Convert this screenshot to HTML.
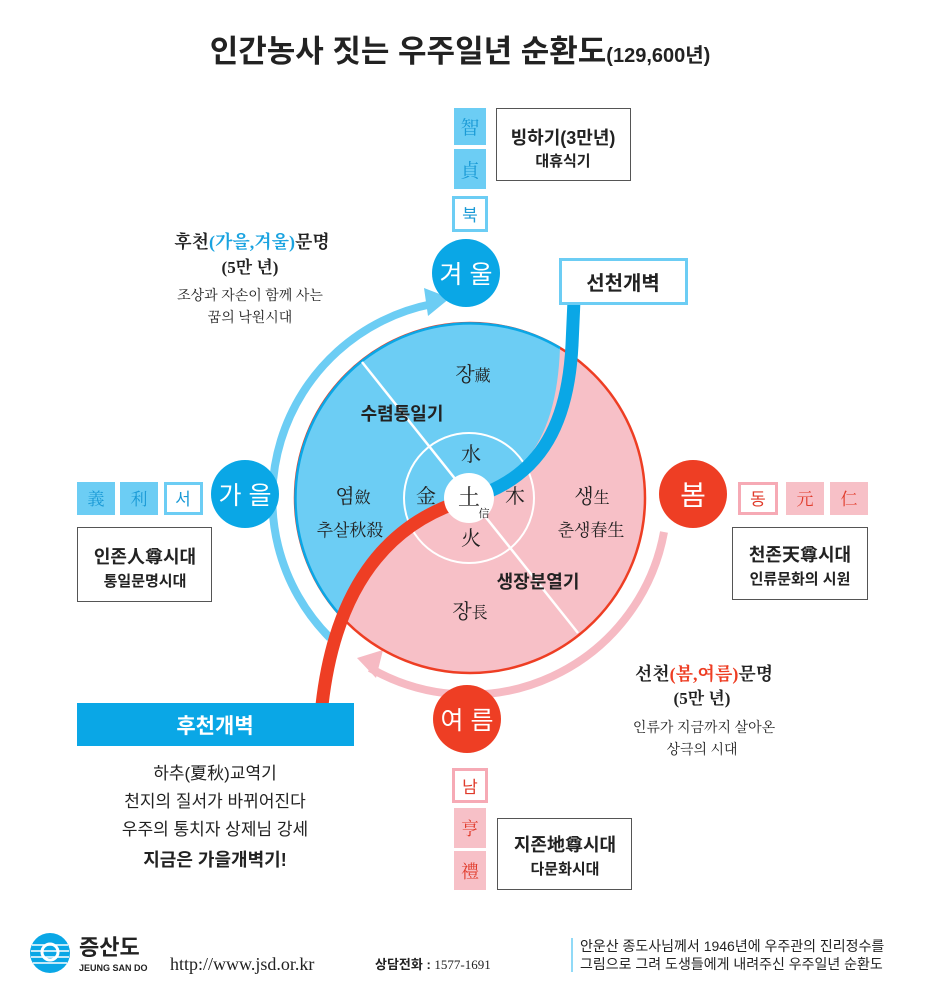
<!DOCTYPE html>
<html><head><meta charset="utf-8"><style>
body{margin:0;background:#fff;}
svg{display:block;font-family:"Liberation Sans","Noto Sans CJK KR",sans-serif;}
.s{font-family:"Liberation Serif","Noto Serif CJK SC","Noto Sans CJK KR",serif;}
</style></head><body>
<svg width="947" height="988" viewBox="0 0 947 988" xmlns="http://www.w3.org/2000/svg">
<text x="460" y="62" text-anchor="middle" font-size="31" font-weight="bold" fill="#222">인간농사 짓는 우주일년 순환도<tspan font-size="20">(129,600년)</tspan></text>

<!-- top -->
<rect x="454" y="108" width="32" height="37" fill="#6ccdf4"/><text x="470" y="134" text-anchor="middle" class="s" font-size="19" fill="#1a9ad6">智</text>
<rect x="454" y="149" width="32" height="40" fill="#6ccdf4"/><text x="470" y="177" text-anchor="middle" class="s" font-size="19" fill="#1a9ad6">貞</text>
<rect x="453.5" y="197.5" width="33" height="33" fill="#fff" stroke="#6ccdf4" stroke-width="3"/><text x="470" y="221" text-anchor="middle" font-size="17" fill="#1a9ad6">북</text>
<rect x="496.5" y="108.5" width="134" height="72" fill="#fff" stroke="#555" stroke-width="1"/>
<text x="563" y="144" text-anchor="middle" font-size="18" font-weight="bold" fill="#222">빙하기(3만년)</text>
<text x="563" y="166" text-anchor="middle" font-size="15" font-weight="bold" fill="#222">대휴식기</text>

<!-- 후천 text -->
<text x="252" y="248" text-anchor="middle" class="s" font-size="18" font-weight="bold" fill="#222">후천<tspan fill="#1aa3e0">(가을,겨울)</tspan>문명</text>
<text x="250" y="273" text-anchor="middle" class="s" font-size="17" font-weight="bold" fill="#222">(5만 년)</text>
<text x="250" y="300" text-anchor="middle" class="s" font-size="14" fill="#222">조상과 자손이 함께 사는</text>
<text x="250" y="322" text-anchor="middle" class="s" font-size="14" fill="#222">꿈의 낙원시대</text>

<!-- arcs -->
<path d="M330 638 A198 198 0 0 1 432 304" fill="none" stroke="#6ccdf4" stroke-width="8"/>
<polygon points="450,298 424,288 428,316" fill="#6ccdf4"/>
<path d="M664 532 A198 198 0 0 1 370 668" fill="none" stroke="#f6bac3" stroke-width="8"/>
<polygon points="357,658 383,650 376,678" fill="#f6bac3"/>

<!-- main circle -->
<circle cx="470" cy="498" r="175" fill="#f7c0c7" stroke="#ee3e24" stroke-width="2.5"/>
<path d="M560 348 A175 175 0 0 0 340 615 C360 570 410 515 460 500 L482 494 C530 470 557 430 560 348 Z" fill="#6ccdf4"/>
<path d="M560 348 A175 175 0 0 0 340 615" fill="none" stroke="#0aa7e6" stroke-width="2.5"/>
<line x1="362" y1="362" x2="578" y2="633" stroke="#fff" stroke-width="2.5"/>
<circle cx="469" cy="498" r="65" fill="none" stroke="#fff" stroke-width="2"/>
<!-- thick lines -->
<path d="M574 300 L572 345 C568 425 540 470 488 492" fill="none" stroke="#0aa7e6" stroke-width="13"/>
<path d="M456 503 C385 528 335 590 322 705" fill="none" stroke="#ee3e24" stroke-width="13"/>
<circle cx="469" cy="498" r="25" fill="#fff"/>

<g class="s" fill="#222">
<text x="469" y="505" text-anchor="middle" font-size="22">土</text>
<text x="484" y="517" text-anchor="middle" font-size="11">信</text>
<text x="471" y="461" text-anchor="middle" font-size="20">水</text>
<text x="426" y="503" text-anchor="middle" font-size="20">金</text>
<text x="515" y="503" text-anchor="middle" font-size="20">木</text>
<text x="471" y="545" text-anchor="middle" font-size="20">火</text>
<text x="473" y="381" text-anchor="middle" font-size="20">장<tspan font-size="16">藏</tspan></text>
<text x="353" y="503" text-anchor="middle" font-size="20">염<tspan font-size="16">斂</tspan></text>
<text x="350" y="536" text-anchor="middle" font-size="17">추살秋殺</text>
<text x="592" y="503" text-anchor="middle" font-size="20">생<tspan font-size="16">生</tspan></text>
<text x="591" y="536" text-anchor="middle" font-size="17">춘생春生</text>
<text x="470" y="618" text-anchor="middle" font-size="20">장<tspan font-size="16">長</tspan></text>
</g>
<text x="402" y="420" text-anchor="middle" font-size="18" font-weight="bold" fill="#222">수렴통일기</text>
<text x="538" y="588" text-anchor="middle" font-size="18" font-weight="bold" fill="#222">생장분열기</text>

<!-- 선천개벽 box -->
<rect x="560.5" y="259.5" width="126" height="44" fill="#fff" stroke="#6ccdf4" stroke-width="3"/>
<text x="623" y="290" text-anchor="middle" font-size="20" font-weight="bold" fill="#222">선천개벽</text>

<!-- season circles -->
<circle cx="466" cy="273" r="34" fill="#0aa7e6"/><text x="466" y="283" text-anchor="middle" font-size="25" fill="#fff">겨 울</text>
<circle cx="245" cy="494" r="34" fill="#0aa7e6"/><text x="245" y="504" text-anchor="middle" font-size="25" fill="#fff">가 을</text>
<circle cx="693" cy="494" r="34" fill="#ee3e24"/><text x="693" y="505" text-anchor="middle" font-size="28" fill="#fff">봄</text>
<circle cx="467" cy="719" r="34" fill="#ee3e24"/><text x="467" y="729" text-anchor="middle" font-size="25" fill="#fff">여 름</text>

<!-- left -->
<rect x="77" y="482" width="38" height="33" fill="#6ccdf4"/><text x="96" y="505" text-anchor="middle" class="s" font-size="17" fill="#1a9ad6">義</text>
<rect x="120" y="482" width="38" height="33" fill="#6ccdf4"/><text x="139" y="505" text-anchor="middle" class="s" font-size="17" fill="#1a9ad6">利</text>
<rect x="165.5" y="483.5" width="36" height="30" fill="#fff" stroke="#6ccdf4" stroke-width="3"/><text x="183" y="505" text-anchor="middle" font-size="17" fill="#1a9ad6">서</text>
<rect x="77.5" y="527.5" width="134" height="74" fill="#fff" stroke="#555"/>
<text x="145" y="563" text-anchor="middle" font-size="18" font-weight="bold" fill="#222">인존人尊시대</text>
<text x="145" y="586" text-anchor="middle" font-size="15" font-weight="bold" fill="#222">통일문명시대</text>

<!-- right -->
<rect x="739.5" y="483.5" width="37" height="30" fill="#fff" stroke="#f6aab5" stroke-width="3"/><text x="758" y="505" text-anchor="middle" font-size="17" fill="#e03a2a">동</text>
<rect x="786" y="482" width="38" height="33" fill="#f7c0c7"/><text x="805" y="505" text-anchor="middle" class="s" font-size="17" fill="#e03a2a">元</text>
<rect x="830" y="482" width="38" height="33" fill="#f7c0c7"/><text x="849" y="505" text-anchor="middle" class="s" font-size="17" fill="#e03a2a">仁</text>
<rect x="732.5" y="527.5" width="135" height="72" fill="#fff" stroke="#555"/>
<text x="800" y="561" text-anchor="middle" font-size="18" font-weight="bold" fill="#222">천존天尊시대</text>
<text x="800" y="584" text-anchor="middle" font-size="15" font-weight="bold" fill="#222">인류문화의 시원</text>

<!-- 선천 text -->
<text x="704" y="680" text-anchor="middle" class="s" font-size="18" font-weight="bold" fill="#222">선천<tspan fill="#ee3e24">(봄,여름)</tspan>문명</text>
<text x="702" y="704" text-anchor="middle" class="s" font-size="17" font-weight="bold" fill="#222">(5만 년)</text>
<text x="704" y="732" text-anchor="middle" class="s" font-size="14" fill="#222">인류가 지금까지 살아온</text>
<text x="702" y="754" text-anchor="middle" class="s" font-size="14" fill="#222">상극의 시대</text>

<!-- bottom -->
<rect x="453.5" y="769.5" width="33" height="32" fill="#fff" stroke="#f6aab5" stroke-width="3"/><text x="470" y="793" text-anchor="middle" font-size="17" fill="#e03a2a">남</text>
<rect x="454" y="808" width="32" height="40" fill="#f7c0c7"/><text x="470" y="835" text-anchor="middle" class="s" font-size="18" fill="#e03a2a">亨</text>
<rect x="454" y="851" width="32" height="39" fill="#f7c0c7"/><text x="470" y="878" text-anchor="middle" class="s" font-size="18" fill="#e03a2a">禮</text>
<rect x="497.5" y="818.5" width="134" height="71" fill="#fff" stroke="#555"/>
<text x="565" y="851" text-anchor="middle" font-size="18" font-weight="bold" fill="#222">지존地尊시대</text>
<text x="565" y="874" text-anchor="middle" font-size="15" font-weight="bold" fill="#222">다문화시대</text>

<!-- 후천개벽 -->
<rect x="77" y="703" width="277" height="43" fill="#0aa7e6"/>
<text x="215" y="733" text-anchor="middle" font-size="21" font-weight="bold" fill="#fff">후천개벽</text>
<text x="215" y="779" text-anchor="middle" font-size="17" fill="#222">하추(夏秋)교역기</text>
<text x="215" y="807" text-anchor="middle" font-size="17" fill="#222">천지의 질서가 바뀌어진다</text>
<text x="215" y="835" text-anchor="middle" font-size="17" fill="#222">우주의 통치자 상제님 강세</text>
<text x="215" y="866" text-anchor="middle" font-size="18" font-weight="bold" fill="#222">지금은 가을개벽기!</text>

<!-- footer -->
<circle cx="50" cy="953" r="20" fill="#0aa7e6"/>
<g stroke="#fff" stroke-width="1.5"><line x1="32" y1="945" x2="68" y2="945"/><line x1="31" y1="951" x2="69" y2="951"/><line x1="31" y1="957" x2="69" y2="957"/><line x1="33" y1="963" x2="67" y2="963"/></g>
<circle cx="50" cy="952" r="8" fill="none" stroke="#fff" stroke-width="3"/>
<text x="79" y="955" font-size="22" font-weight="bold" fill="#222">증산도</text>
<text x="79" y="971" font-size="9" font-weight="bold" fill="#222">JEUNG SAN DO</text>
<text x="170" y="970" class="s" font-size="18" fill="#222">http://www.jsd.or.kr</text>
<text x="375" y="969" font-size="13" font-weight="bold" fill="#222">상담전화 : <tspan class="s" font-weight="normal">1577-1691</tspan></text>
<line x1="572" y1="938" x2="572" y2="972" stroke="#6ccdf4" stroke-width="1.5"/>
<text x="580" y="951" font-size="14" fill="#222">안운산 종도사님께서 1946년에 우주관의 진리정수를</text>
<text x="580" y="969" font-size="14" fill="#222">그림으로 그려 도생들에게 내려주신 우주일년 순환도</text>
</svg>
</body></html>
